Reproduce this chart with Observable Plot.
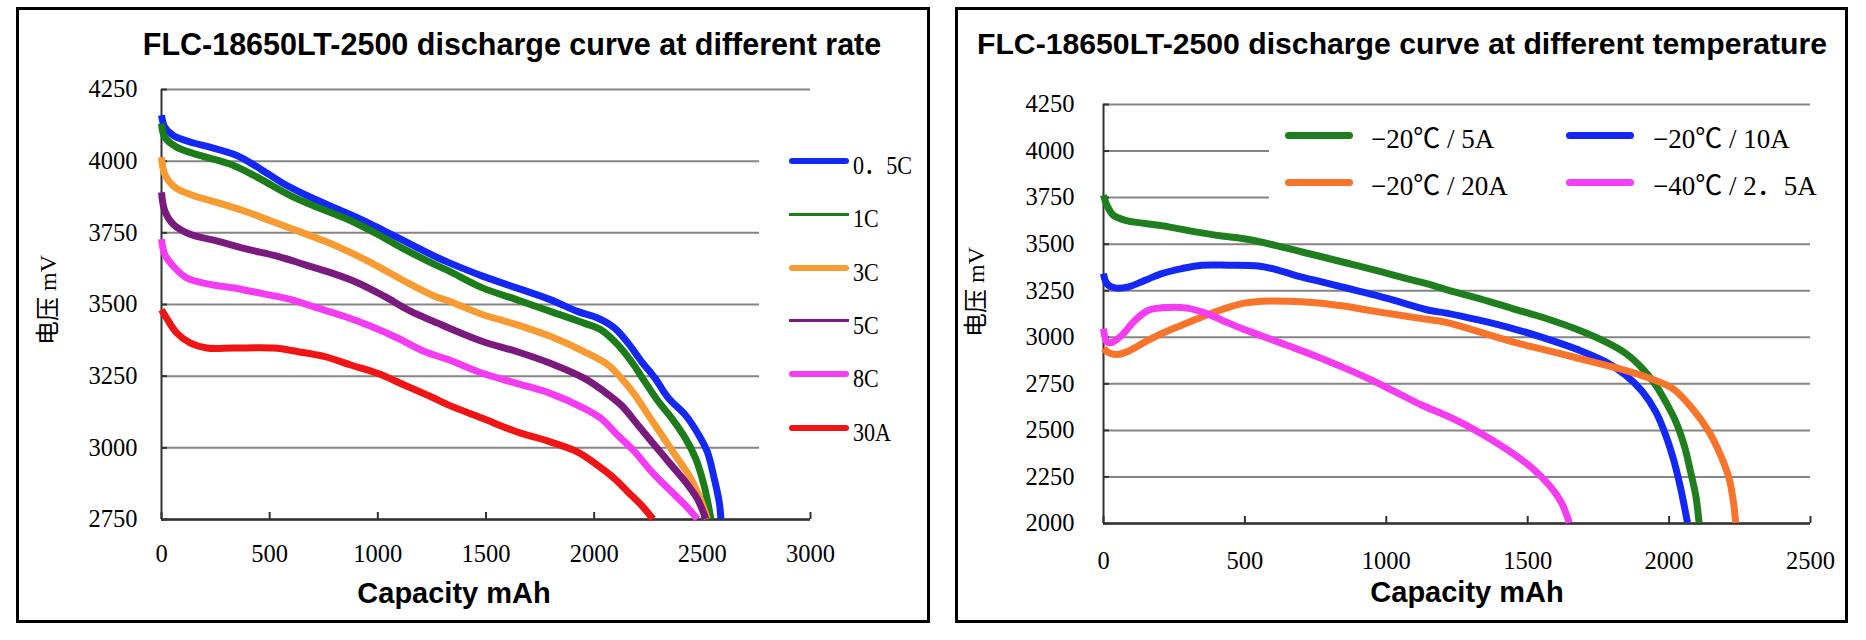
<!DOCTYPE html>
<html>
<head>
<meta charset="utf-8">
<script src="https://cdn.jsdelivr.net/npm/d3@7"></script>
<script src="https://cdn.jsdelivr.net/npm/@observablehq/plot@0.6"></script>
<style>
  html, body { margin: 0; padding: 0; background: #fff; }
  body { position: relative; width: 1866px; height: 640px; overflow: hidden; }
  .frame { position: absolute; border: 3px solid #000; box-sizing: border-box; }
  .wrap { position: absolute; top: 0; width: 933px; height: 640px; }
  .wrap svg text { font-family: "Liberation Serif", "Times New Roman", serif !important; }
  .title { position: absolute; font-family: "Liberation Sans", Arial, sans-serif; font-weight: bold;
           line-height: 1; white-space: nowrap; transform: translateX(-50%); color: #000; }
  .xlab { position: absolute; font-family: "Liberation Sans", Arial, sans-serif; font-weight: bold;
          font-size: 29px; line-height: 1; white-space: nowrap; transform: translateX(-50%); color: #000; }
  .ylab { position: absolute; font-family: "Liberation Serif", "Noto Sans CJK SC", serif; font-size: 24px; line-height: 1;
          white-space: nowrap; transform: translate(-50%, -50%) rotate(-90deg); color: #000; }
  .legend { position: absolute; background: #fff; }
  .sw { position: absolute; border-radius: 4px; }
  .lt { position: absolute; font-family: "Liberation Serif", "Noto Sans CJK SC", serif; line-height: 1;
        white-space: nowrap; color: #000; transform-origin: left center; }
</style>
</head>
<body>
<script>
// ---------------- Data: discharge at different rate (mAh, mV) ----------------
const rateXTicks = [0, 500, 1000, 1500, 2000, 2500, 3000];
const rateYTicks = [2750, 3000, 3250, 3500, 3750, 4000, 4250];
const rateNames = ["0．5C", "1C", "3C", "5C", "8C", "30A"];
const rateColors = ["#1428f5", "#1a7d1a", "#f79b32", "#7a1a7e", "#f53cf5", "#f01414"];

const rate05C = [[0,4160],[15,4119],[54,4090],[132,4067],[224,4049],[348,4020],[457,3973],[565,3921],[689,3874],[813,3833],[937,3792],[1029,3757],[1153,3710],[1277,3663],[1328,3646],[1484,3599],[1641,3558],[1797,3517],[1922,3476],[2016,3453],[2094,3418],[2156,3366],[2219,3301],[2281,3243],[2344,3173],[2422,3114],[2484,3044],[2523,2986],[2555,2893],[2578,2811],[2586,2752]];
const rate1C = [[0,4131],[15,4084],[70,4049],[178,4020],[333,3985],[457,3938],[596,3880],[720,3839],[875,3792],[998,3745],[1122,3693],[1262,3640],[1328,3617],[1484,3558],[1641,3517],[1797,3476],[1953,3435],[2031,3412],[2109,3360],[2172,3301],[2234,3231],[2297,3161],[2359,3103],[2422,3033],[2469,2963],[2508,2869],[2531,2787],[2539,2752]];
const rate3C = [[0,4014],[15,3955],[62,3909],[147,3880],[255,3856],[379,3827],[503,3792],[627,3757],[751,3722],[875,3681],[998,3634],[1122,3582],[1262,3529],[1328,3512],[1484,3465],[1641,3430],[1797,3389],[1953,3336],[2063,3290],[2125,3243],[2188,3185],[2250,3114],[2313,3044],[2375,2974],[2438,2904],[2484,2834],[2523,2752]];
const rate5C = [[0,3891],[15,3827],[54,3780],[132,3745],[255,3722],[395,3693],[534,3669],[658,3640],[782,3611],[906,3576],[1029,3529],[1153,3476],[1277,3435],[1328,3418],[1484,3371],[1641,3336],[1797,3295],[1953,3243],[2047,3196],[2125,3149],[2203,3079],[2266,3021],[2344,2951],[2422,2881],[2477,2822],[2516,2752]];
const rate8C = [[0,3728],[15,3675],[54,3634],[116,3593],[224,3570],[348,3556],[472,3537],[596,3518],[720,3488],[844,3459],[968,3424],[1091,3383],[1215,3336],[1328,3307],[1484,3260],[1641,3225],[1797,3190],[1953,3138],[2031,3103],[2109,3044],[2188,2986],[2266,2916],[2344,2857],[2422,2799],[2477,2752]];
const rate30A = [[0,3482],[23,3453],[70,3401],[132,3366],[209,3348],[333,3348],[519,3348],[627,3336],[751,3319],[875,3289],[998,3260],[1122,3219],[1246,3178],[1328,3149],[1484,3103],[1641,3056],[1797,3021],[1922,2986],[2016,2939],[2094,2893],[2156,2846],[2219,2799],[2272,2752]];
const rateSeries = [rate05C, rate1C, rate3C, rate5C, rate8C, rate30A];

// ---------------- Data: discharge at different temperature ----------------
const tempXTicks = [0, 500, 1000, 1500, 2000, 2500];
const tempYTicks = [2000, 2250, 2500, 2750, 3000, 3250, 3500, 3750, 4000, 4250];
const tempNames = ["−20℃ / 5A", "−20℃ / 10A", "−20℃ / 20A", "−40℃ / 2．5A"];
const tempColors = ["#1f7f1f", "#1428f5", "#f7742a", "#f53cf0"];

const tempM20_5A = [[0,3763],[12,3709],[35,3655],[77,3628],[147,3611],[230,3593],[324,3566],[419,3544],[513,3525],[607,3494],[702,3458],[796,3423],[890,3387],[984,3351],[1079,3312],[1161,3280],[1212,3256],[1329,3208],[1447,3154],[1565,3101],[1682,3038],[1776,2975],[1847,2913],[1906,2832],[1953,2743],[1988,2653],[2024,2546],[2053,2421],[2076,2277],[2094,2152],[2106,2004]];
const tempM20_10A = [[0,3342],[12,3288],[41,3265],[88,3271],[147,3306],[206,3342],[277,3369],[348,3387],[442,3387],[548,3383],[607,3365],[678,3333],[772,3297],[866,3262],[961,3226],[1055,3186],[1150,3145],[1212,3130],[1329,3092],[1447,3047],[1565,2993],[1682,2931],[1776,2868],[1847,2796],[1906,2707],[1953,2599],[1988,2474],[2018,2331],[2041,2188],[2065,2004]];
const tempM20_20A = [[0,2940],[18,2918],[47,2907],[88,2925],[147,2975],[206,3020],[277,3065],[348,3109],[419,3149],[489,3181],[560,3194],[654,3194],[749,3186],[843,3169],[937,3145],[1032,3122],[1126,3100],[1212,3080],[1329,3029],[1447,2975],[1565,2931],[1682,2886],[1800,2841],[1918,2787],[2012,2725],[2082,2617],[2141,2492],[2182,2367],[2212,2242],[2229,2098],[2235,2004]];
const tempM40_2_5A = [[0,3047],[12,2975],[29,2972],[65,3011],[112,3092],[159,3145],[206,3158],[289,3158],[348,3136],[419,3092],[489,3047],[560,3007],[654,2954],[749,2900],[843,2841],[937,2778],[1032,2707],[1126,2635],[1212,2580],[1282,2528],[1365,2456],[1447,2376],[1518,2295],[1576,2206],[1618,2116],[1647,2004]];
const tempSeries = [tempM20_5A, tempM20_10A, tempM20_20A, tempM40_2_5A];

const titles = ["FLC-18650LT-2500 discharge curve at different rate", "FLC-18650LT-2500 discharge curve at different temperature"];
const xLabel = "Capacity mAh";
const yLabel = "电压 mV";

// ---------------- helpers ----------------
function el(tag, cls, style, text) {
  const e = document.createElement(tag);
  if (cls) e.className = cls;
  Object.assign(e.style, style || {});
  if (text != null) e.textContent = text;
  document.body.appendChild(e);
  return e;
}
function toRows(series, names) {
  return series.flatMap((s, i) => s.map(([x, y]) => ({x, y, name: names[i]})));
}

function chart({xDomain, yDomain, xTicks, yTicks, series, names, colors, margins, xPad, yPad}) {
  return Plot.plot({
    width: 933, height: 640,
    marginLeft: margins[0], marginRight: margins[1], marginTop: margins[2], marginBottom: margins[3],
    style: {fontFamily: "'Liberation Serif', serif", fontSize: "24.5px", background: "transparent", color: "#000", overflow: "visible"},
    x: {domain: xDomain},
    y: {domain: yDomain},
    color: {domain: names, range: colors},
    marks: [
      Plot.gridY(yTicks, {stroke: "#858585", strokeOpacity: 1, strokeWidth: 2}),
      Plot.axisY(yTicks, {tickSize: -6, tickPadding: yPad, tickFormat: d => String(d), label: null, strokeWidth: 2, stroke: "#333"}),
      Plot.axisX(xTicks, {tickSize: -7, tickPadding: xPad, tickFormat: d => String(d), label: null, strokeWidth: 2, stroke: "#333"}),
      Plot.ruleX([xDomain[0]], {stroke: "#333", strokeWidth: 2}),
      Plot.ruleY([yDomain[0]], {stroke: "#333", strokeWidth: 2.5}),
      Plot.line(toRows(series, names), {x: "x", y: "y", z: "name", stroke: "name", strokeWidth: 7,
        curve: "catmull-rom", strokeLinejoin: "round", strokeLinecap: "butt"})
    ]
  });
}

// ---------------- frames ----------------
el("div", "frame", {left: "16px", top: "7px", width: "914px", height: "616px"});
el("div", "frame", {left: "955px", top: "7px", width: "893px", height: "616px"});

// ---------------- charts ----------------
const w1 = el("div", "wrap", {left: "0px"});
w1.appendChild(chart({xDomain: [0, 3000], yDomain: [2750, 4250], xTicks: rateXTicks, yTicks: rateYTicks,
  series: rateSeries, names: rateNames, colors: rateColors, margins: [161, 123, 89, 121], xPad: 32, yPad: 30}));
const w2 = el("div", "wrap", {left: "933px"});
w2.appendChild(chart({xDomain: [0, 2500], yDomain: [2000, 4250], xTicks: tempXTicks, yTicks: tempYTicks,
  series: tempSeries, names: tempNames, colors: tempColors, margins: [170, 56, 104, 117], xPad: 35, yPad: 35}));

// ---------------- legends ----------------
const leg1 = el("div", "legend", {left: "759px", top: "100px", width: "166px", height: "405px"});
const lw1 = [6, 3.5, 6, 3, 6.5, 6];
rateNames.forEach((n, i) => {
  const cy = 161 + i * 53.3 - 100;
  const sw = document.createElement("div"); sw.className = "sw";
  Object.assign(sw.style, {left: "30px", width: "60px", top: (cy - lw1[i] / 2) + "px", height: lw1[i] + "px",
    background: rateColors[i], borderRadius: lw1[i] > 4 ? "4px" : "0"});
  leg1.appendChild(sw);
  const t = document.createElement("div"); t.className = "lt"; t.textContent = n;
  Object.assign(t.style, {left: "94px", top: (cy + 5 - 13) + "px", fontSize: "26px", transform: "scaleX(0.85)"});
  leg1.appendChild(t);
});

const leg2 = el("div", "legend", {left: "1269px", top: "113px", width: "576px", height: "115px"});
tempNames.forEach((n, i) => {
  const col = i % 2, row = Math.floor(i / 2);
  const cy = [135, 182][row] - 113;
  const lx = [1285, 1566][col] - 1269;
  const tx = [1371, 1653][col] - 1269;
  const sw = document.createElement("div"); sw.className = "sw";
  Object.assign(sw.style, {left: lx + "px", width: "68px", top: (cy - 3.5) + "px", height: "7px", background: tempColors[i]});
  leg2.appendChild(sw);
  const t = document.createElement("div"); t.className = "lt"; t.textContent = n;
  Object.assign(t.style, {left: tx + "px", top: (cy + 4 - 13.5) + "px", fontSize: "27px"});
  leg2.appendChild(t);
});

// ---------------- titles & axis labels ----------------
el("div", "title", {left: "512px", top: "29px", fontSize: "30.5px"}, titles[0]);
el("div", "title", {left: "1402px", top: "29px", fontSize: "30.2px"}, titles[1]);
el("div", "xlab", {left: "454px", top: "579px"}, xLabel);
el("div", "xlab", {left: "1467px", top: "578px"}, xLabel);
el("div", "ylab", {left: "48px", top: "300px"}, yLabel);
el("div", "ylab", {left: "976px", top: "292px"}, yLabel);
</script>
</body>
</html>
